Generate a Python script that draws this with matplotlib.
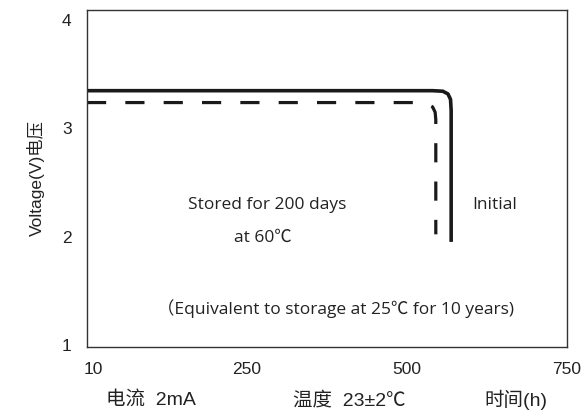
import numpy as np
import matplotlib.pyplot as plt

# hours vs voltage
initial_h = [0, 300, 540, 556, 564, 568, 569, 569]
initial_v = [3.35, 3.35, 3.35, 3.345, 3.32, 3.27, 3.17, 1.95]
stored_h = [0, 300, 515, 530, 540, 544, 545, 545]
stored_v = [3.24, 3.24, 3.24, 3.23, 3.20, 3.15, 3.08, 2.02]

xticks = [10, 250, 500, 750]
yticks = [1, 2, 3, 4]

plt.rcParams['font.family'] = ['Liberation Sans', 'Noto Sans CJK SC', 'DejaVu Sans']

fig = plt.figure(figsize=(5.82, 4.16), dpi=100)
ax = fig.add_axes([87/582, 1-347/416, 480/582, 337/416])

ax.plot(initial_h, initial_v, color='#1a1a1a', lw=2.6, solid_capstyle='butt')
ax.plot(stored_h, stored_v, color='#1a1a1a', lw=2.3, ls=(0, (6, 6)), dash_capstyle='butt')

ax.set_xlim(0, 750)
ax.set_ylim(0.977, 4.097)
ax.set_xticks(xticks)
ax.set_xticklabels([str(t) for t in xticks])
ax.set_yticks(yticks)
ax.set_yticklabels([str(t) for t in yticks])
ax.tick_params(length=0, pad=11, labelsize=12.5, colors='#222222')
for s in ax.spines.values():
    s.set_color('#333333')
    s.set_linewidth(1.0)

ax.set_ylabel('Voltage(V)电压', fontsize=12.5, color='#222222', labelpad=12)

inner = ['Open Sans', 'Noto Sans CJK JP', 'DejaVu Sans']
kw = dict(transform=ax.transAxes, ha='center', va='center', fontsize=12.5, family=inner, color='#222222')
ax.text(0.375, 1-(205-10)/337, 'Stored for 200 days', **kw)
ax.text(0.366, 1-(238-10)/337, 'at 60℃', **kw)
ax.text(0.849, 1-(205-10)/337, 'Initial', **kw)
ax.text(0.517, 1-(309-10)/337, '（Equivalent to storage at 25℃ for 10 years)', **kw)

bkw = dict(ha='center', va='center', fontsize=14, color='#222222')
fig.text(151/582, 1-400/416, '电流  2mA', **bkw)
fig.text(349/582, 1-400/416, '温度  23±2℃', **bkw)
fig.text(516/582, 1-400/416, '时间(h)', **bkw)

fig.savefig('out.png', dpi=100)
